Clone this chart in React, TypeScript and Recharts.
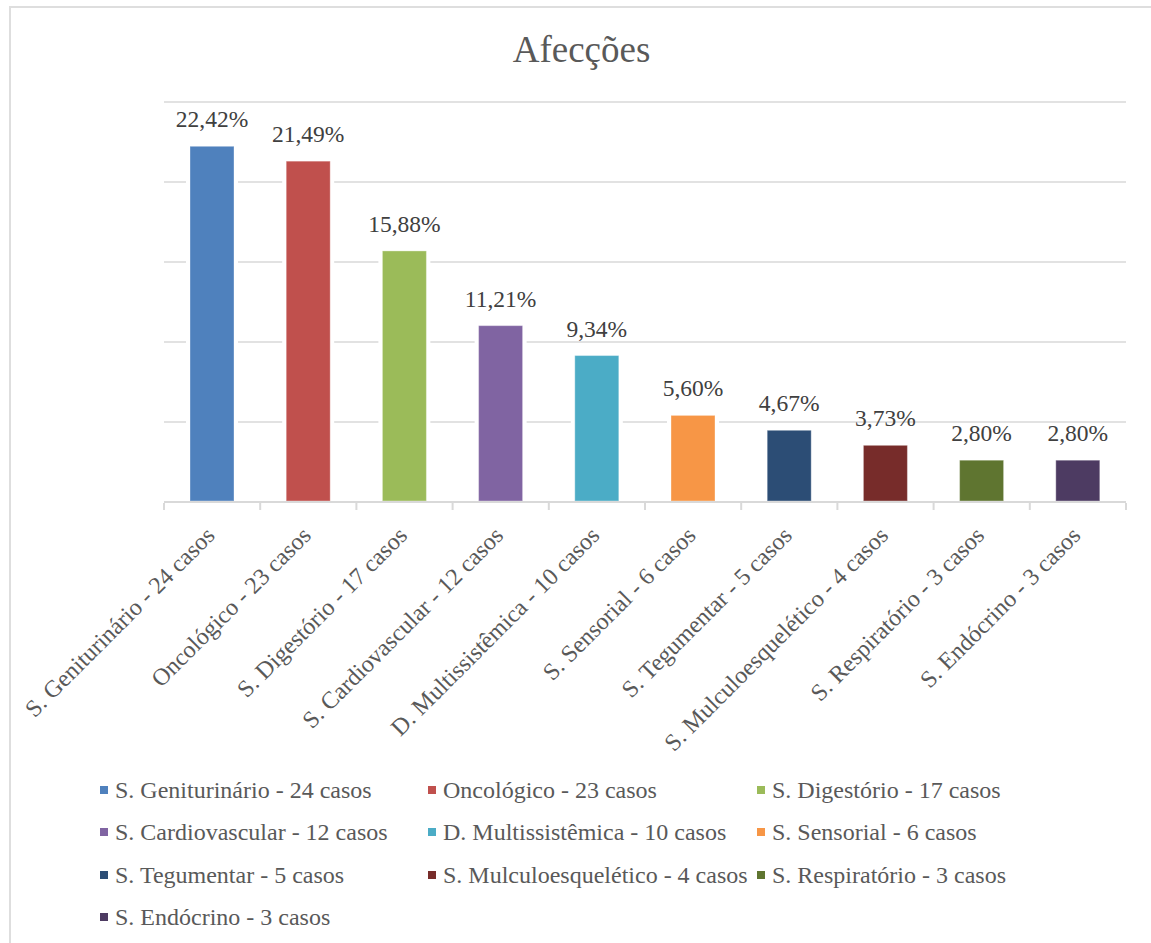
import React from "react";
import { BarChart, Bar, XAxis, YAxis, CartesianGrid, Cell, LabelList, Legend } from "recharts";

// Afecções: share of cases per category (percent)
const categories = [
  "S. Geniturinário - 24 casos",
  "Oncológico - 23 casos",
  "S. Digestório - 17 casos",
  "S. Cardiovascular - 12 casos",
  "D. Multissistêmica - 10 casos",
  "S. Sensorial - 6 casos",
  "S. Tegumentar - 5 casos",
  "S. Mulculoesquelético - 4 casos",
  "S. Respiratório - 3 casos",
  "S. Endócrino - 3 casos",
];
const percentages = [22.42, 21.49, 15.88, 11.21, 9.34, 5.6, 4.67, 3.73, 2.8, 2.8];
const colors = [
  "#4F81BD", "#C0504D", "#9BBB59", "#8064A2", "#4BACC6",
  "#F79646", "#2C4D75", "#772C2A", "#5F7530", "#4D3B62",
];
const yTicks = [0, 5, 10, 15, 20, 25];

const data = categories.map((name, i) => ({ name, value: percentages[i] }));

const W = 1151;
const H = 943;
const M = { top: 102, right: 25, bottom: 0, left: 164 };
const PLOT_H = 400;
const PLOT_W = W - M.left - M.right;
const BAND = PLOT_W / categories.length;
const FONT = '"Liberation Serif", "Times New Roman", serif';
const GRID = "#d9d9d9";

const fmt = (v: number) => v.toFixed(2).replace(".", ",") + "%";

// Bar with a white halo that interrupts the gridlines around it
const HaloBar = (props: any) => {
  const { x, y, width, height, fill } = props;
  if (height == null || height <= 0) return null;
  return (
    <g>
      <rect x={x - 4} y={y - 1} width={width + 8} height={height + 1} fill="#fff" />
      <rect
        x={x}
        y={y + 3}
        width={width}
        height={Math.max(height - 4, 0)}
        fill={fill}
        stroke="rgba(255,255,255,0.35)"
        strokeWidth={1}
      />
    </g>
  );
};

// Rotated category label plus tick marks at the category boundaries
const AxisTick = (props: any) => {
  const { x, y, payload, index } = props;
  const last = index === categories.length - 1;
  const lx = x + 4;
  const ly = y + 35;
  return (
    <g>
      <line x1={x - BAND / 2} x2={x - BAND / 2} y1={y + 1} y2={y + 8} stroke={GRID} strokeWidth={2} />
      {last && (
        <line x1={x + BAND / 2} x2={x + BAND / 2} y1={y + 1} y2={y + 8} stroke={GRID} strokeWidth={2} />
      )}
      <text
        x={lx}
        y={ly}
        textAnchor="end"
        transform={`rotate(-45, ${lx}, ${ly})`}
        fill="#595959"
        fontSize={24}
        fontFamily={FONT}
      >
        {payload.value}
      </text>
    </g>
  );
};

const legendCols = [100, 428, 757];
const legendRowTop = 778;
const legendRowStep = 42.3;

const LegendContent = () => (
  <div style={{ position: "relative", width: W, height: H }}>
    {categories.map((name, i) => {
      const col = i % 3;
      const row = Math.floor(i / 3);
      const top = legendRowTop + row * legendRowStep;
      return (
        <div key={name} style={{ position: "absolute", left: legendCols[col], top, height: 24 }}>
          <div
            style={{
              position: "absolute",
              left: 0,
              top: 8,
              width: 8,
              height: 8,
              background: colors[i],
            }}
          />
          <div
            style={{
              position: "absolute",
              left: 15,
              top: 0,
              whiteSpace: "nowrap",
              fontFamily: FONT,
              fontSize: 24,
              lineHeight: "24px",
              color: "#595959",
            }}
          >
            {name}
          </div>
        </div>
      );
    })}
  </div>
);

export default function App() {
  return (
    <div
      style={{
        position: "absolute",
        left: 0,
        top: 0,
        width: W,
        height: H,
        overflow: "hidden",
        background: "#fff",
      }}
    >
      <div
        style={{
          position: "absolute",
          left: 9,
          top: 6,
          width: 1200,
          height: 1000,
          border: "2px solid #dedede",
          boxSizing: "border-box",
        }}
      />
      <div style={{ position: "absolute", left: 0, top: 0 }}>
        <BarChart width={W} height={H} data={data} margin={M}>
          <text x={581.5} y={61.7} textAnchor="middle" fontSize={37} fontFamily={FONT} fill="#595959">
            Afecções
          </text>
          <CartesianGrid horizontal vertical={false} stroke={GRID} strokeWidth={1.6} />
          <YAxis hide domain={[0, 25]} ticks={yTicks} width={0} />
          <XAxis
            dataKey="name"
            interval={0}
            height={H - M.top - PLOT_H}
            tickLine={false}
            tickSize={0}
            tickMargin={0}
            axisLine={{ stroke: GRID, strokeWidth: 2 }}
            tick={<AxisTick />}
          />
          <Bar dataKey="value" barSize={44} isAnimationActive={false} shape={<HaloBar />}>
            {data.map((d, i) => (
              <Cell key={d.name} fill={colors[i]} />
            ))}
            <LabelList
              dataKey="value"
              position="top"
              offset={16}
              formatter={(v: any) => fmt(Number(v))}
              fill="#404040"
              fontSize={23.5}
              fontFamily={FONT}
            />
          </Bar>
          <Legend
            layout="horizontal"
            verticalAlign="middle"
            align="center"
            content={<LegendContent />}
            wrapperStyle={{ position: "absolute", left: 0, top: 0, width: W, height: H, pointerEvents: "none" }}
          />
        </BarChart>
      </div>
    </div>
  );
}
